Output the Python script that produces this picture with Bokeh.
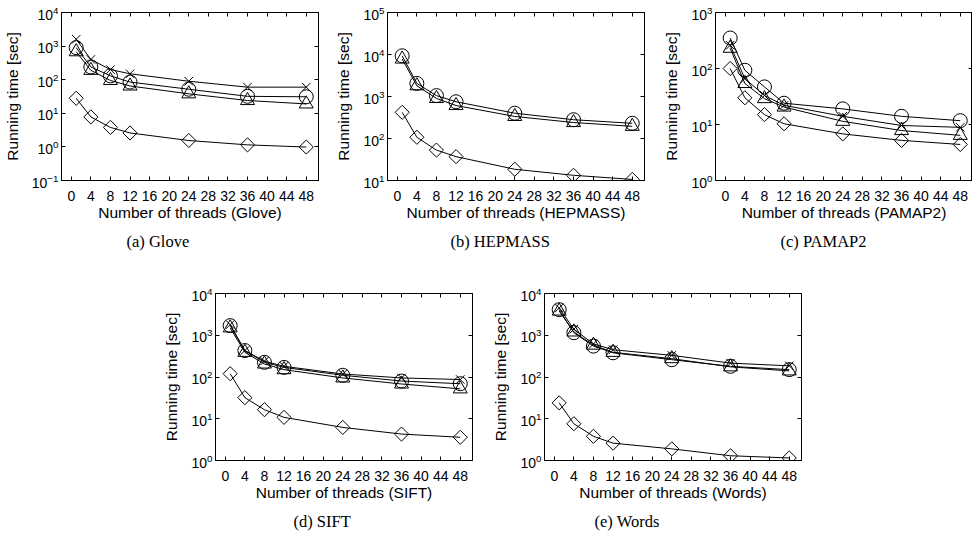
from bokeh.plotting import figure
from bokeh.models import (FixedTicker, LogTicker, LinearAxis, Title, Range1d,
                          Spacer, CustomJSTickFormatter)
from bokeh.layouts import row, column
from bokeh.embed import file_html
from bokeh.resources import INLINE
import numpy as np

# ---- data ----
threads = [1, 4, 8, 12, 24, 36, 48]
x_ticks = [0, 4, 8, 12, 16, 20, 24, 28, 32, 36, 40, 44, 48]

glove_cross = [1600, 400, 200, 150, 90, 60, 60]
glove_circle = [900, 240, 130, 85, 52, 32, 31]
glove_triangle = [680, 190, 95, 65, 38, 24, 19]
glove_diamond = [28, 7.8, 3.8, 2.6, 1.55, 1.15, 0.99]

hepmass_circle = [9300, 2050, 1050, 750, 400, 280, 230]
hepmass_triangle = [7800, 1800, 900, 610, 335, 240, 195]
hepmass_diamond = [420, 107, 53, 37, 18.5, 13.3, 10.6]

pamap2_circle = [350, 93, 47, 24, 19, 14, 11.7]
pamap2_cross = [260, 66, 33, 22, 14, 9.6, 8.9]
pamap2_triangle = [230, 54, 29, 20.5, 11.4, 7.8, 6.4]
pamap2_diamond = [100, 30, 15, 10.3, 6.8, 5.2, 4.4]

sift_cross = [1800, 430, 240, 180, 118, 95, 87]
sift_circle = [1700, 430, 225, 170, 110, 80, 69]
sift_triangle = [1500, 390, 205, 150, 95, 68, 52]
sift_diamond = [120, 32, 16.5, 10.8, 6.2, 4.3, 3.6]

words_cross = [4500, 1400, 620, 450, 330, 215, 185]
words_circle = [4100, 1150, 550, 380, 260, 180, 150]
words_triangle = [3800, 1200, 580, 390, 275, 175, 140]
words_diamond = [24, 7.6, 3.8, 2.6, 1.9, 1.3, 1.15]

SANS = "Liberation Sans"
SERIF = "Liberation Serif"


def style_axis(ax, labels=True):
    ax.major_tick_in = 4
    ax.major_tick_out = 0
    ax.minor_tick_in = 0
    ax.minor_tick_out = 0
    ax.axis_line_color = "black"
    ax.major_tick_line_color = "black"
    if labels:
        ax.major_label_text_font = SANS
        ax.major_label_text_font_size = "14px"
        ax.major_label_text_color = "black"
        ax.axis_label_text_font = SANS
        ax.axis_label_text_font_size = "15.5px"
        ax.axis_label_text_font_style = "normal"
        ax.axis_label_text_color = "black"
    else:
        ax.formatter = CustomJSTickFormatter(code="return ''")
        ax.major_label_text_font_size = "0px"
        ax.major_label_standoff = 0


def make(name, ymin, ymax, series, lb, rb, tb, bb, fh, cap, cap_off, cap_standoff):
    p = figure(frame_width=257, frame_height=fh,
               x_range=Range1d(-2, 50.5), y_range=Range1d(ymin, ymax),
               y_axis_type="log", output_backend="svg", toolbar_location=None,
               min_border_left=lb, min_border_right=rb,
               min_border_top=tb, min_border_bottom=bb)
    p.outline_line_color = "black"
    p.outline_line_width = 1
    p.xgrid.visible = False
    p.ygrid.visible = False
    p.background_fill_color = "white"
    p.border_fill_color = "white"

    p.xaxis.ticker = FixedTicker(ticks=x_ticks)
    p.yaxis.ticker = LogTicker(num_minor_ticks=0)
    style_axis(p.xaxis[0])
    style_axis(p.yaxis[0])
    p.xaxis.axis_label = "Number of threads (%s)" % name
    p.yaxis.axis_label = "Running time [sec]"
    p.xaxis.major_label_standoff = 10
    p.xaxis.axis_label_standoff = 0
    p.yaxis.major_label_standoff = 3
    p.yaxis.axis_label_standoff = 8

    top = LinearAxis(ticker=FixedTicker(ticks=x_ticks))
    style_axis(top, labels=False)
    p.add_layout(top, "above")
    right = LinearAxis(ticker=LogTicker(num_minor_ticks=0))
    style_axis(right, labels=False)
    p.add_layout(right, "right")

    for kind, vals in series:
        p.line(threads, vals, line_color="black", line_width=1)
        if kind == "x":
            p.scatter(threads, vals, marker="x", size=12, line_color="black", line_width=1)
        elif kind == "circle":
            p.scatter(threads, vals, marker="circle", size=14, line_color="black",
                      fill_color=None, line_width=1)
        elif kind == "triangle":
            p.scatter(threads, vals, marker="triangle", size=14, line_color="black",
                      fill_color=None, line_width=1)
        elif kind == "diamond":
            p.scatter(threads, vals, marker="square", size=10, angle=np.pi / 4,
                      line_color="black", fill_color=None, line_width=1)

    t = Title(text=cap, align="left", offset=cap_off, standoff=cap_standoff,
              text_font=SERIF, text_font_size="16.5px", text_font_style="normal",
              text_color="black")
    p.add_layout(t, "below")
    return p


pa = make("Glove", 0.1, 1e4,
          [("x", glove_cross), ("circle", glove_circle), ("triangle", glove_triangle),
           ("diamond", glove_diamond)],
          55, 5, 12, 103, 168, "(a) Glove", 65, 12)
pb = make("HEPMASS", 10, 1e5,
          [("circle", hepmass_circle), ("triangle", hepmass_triangle),
           ("diamond", hepmass_diamond)],
          64, 5, 12, 103, 168, "(b) HEPMASS", 63, 12)
pc = make("PAMAP2", 1, 1e3,
          [("circle", pamap2_circle), ("x", pamap2_cross), ("triangle", pamap2_triangle),
           ("diamond", pamap2_diamond)],
          66, 0, 12, 103, 168, "(c) PAMAP2", 65, 12)
pd = make("SIFT", 1, 1e4,
          [("x", sift_cross), ("circle", sift_circle), ("triangle", sift_triangle),
           ("diamond", sift_diamond)],
          64, 8, 10, 64, 167, "(d) SIFT", 78, 13)
pe = make("Words", 1, 1e4,
          [("x", words_cross), ("circle", words_circle), ("triangle", words_triangle),
           ("diamond", words_diamond)],
          64, 5, 10, 64, 167, "(e) Words", 50, 13)

layout = column(row(pa, pb, pc),
                row(Spacer(width=151, height=10), pd, pe))

open("out.html", "w").write(file_html(layout, INLINE))
